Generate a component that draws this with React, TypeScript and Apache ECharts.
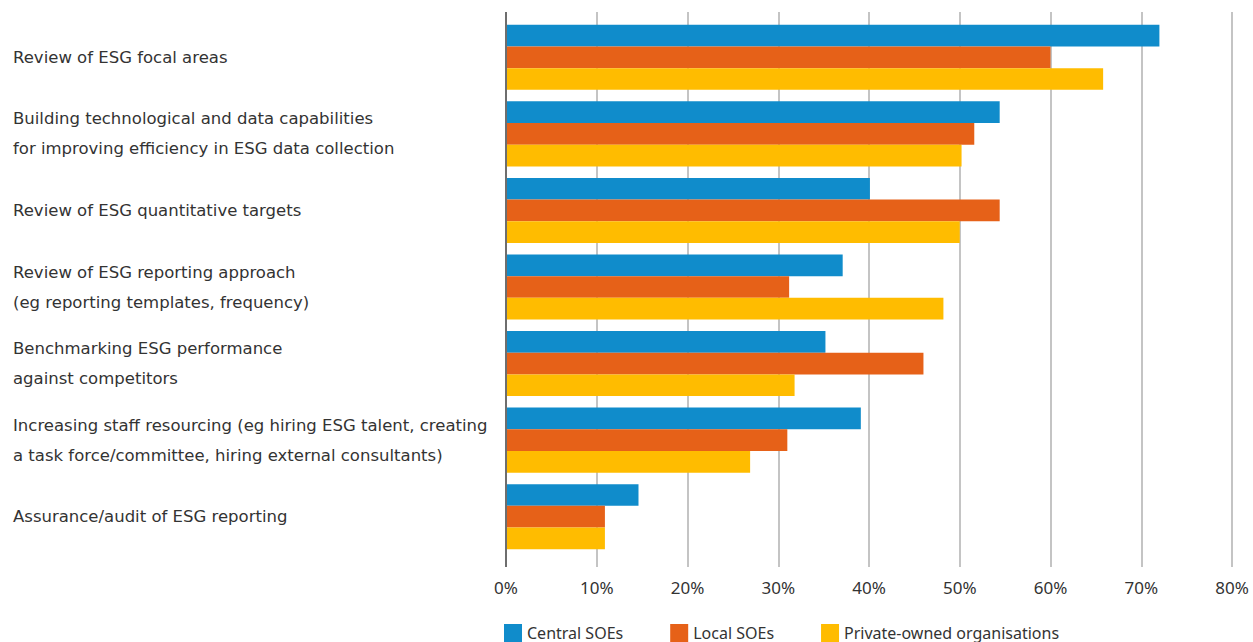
import React, { useEffect, useRef } from "react";
import * as echarts from "echarts";

const categories = [
  "Review of ESG focal areas",
  "Building technological and data capabilities\nfor improving efficiency in ESG data collection",
  "Review of ESG quantitative targets",
  "Review of ESG reporting approach\n(eg reporting templates, frequency)",
  "Benchmarking ESG performance\nagainst competitors",
  "Increasing staff resourcing (eg hiring ESG talent, creating\na task force/committee, hiring external consultants)",
  "Assurance/audit of ESG reporting",
];
const seriesNames = ["Central SOEs", "Local SOEs", "Private-owned organisations"];
const centralSOEs = [72, 54.4, 40.1, 37.1, 35.2, 39.1, 14.6];
const localSOEs = [60, 51.6, 54.4, 31.2, 46, 31, 10.9];
const privateOwned = [65.8, 50.2, 50, 48.2, 31.8, 26.9, 10.9];
const xTicks = [0, 10, 20, 30, 40, 50, 60, 70, 80];
const colors = ["#108ccb", "#e66118", "#ffbc00"];

const FONT = "'Noto Sans', 'Open Sans', sans-serif";
const CAT_FONT = "'DejaVu Sans', 'Noto Sans', sans-serif";

export default function App() {
  const ref = useRef<HTMLDivElement>(null);
  useEffect(() => {
    const chart = echarts.init(ref.current!, null, { renderer: "svg" });
    const values = [centralSOEs, localSOEs, privateOwned];
    chart.setOption({
      animation: false,
      textStyle: { fontFamily: FONT },
      color: colors,
      legend: {
        left: 504,
        top: 624,
        padding: 0,
        itemWidth: 18,
        itemHeight: 18,
        itemGap: 47,
        icon: "rect",
        textStyle: { fontSize: 16, color: "#333", fontFamily: FONT },
        data: seriesNames,
      },
      grid: { left: 506, right: 21, top: 19, bottom: 87 },
      xAxis: [
        {
          type: "value",
          min: xTicks[0],
          max: xTicks[xTicks.length - 1],
          interval: 10,
          position: "bottom",
          axisLine: { show: false },
          axisTick: { show: true, length: 12, lineStyle: { color: "#c4c4c4", width: 2 } },
          splitLine: { show: true, lineStyle: { color: "#c4c4c4", width: 2 } },
          axisLabel: {
            formatter: (v: number) => v + "%",
            fontSize: 17,
            color: "#333",
            margin: 24,
            fontFamily: FONT,
          },
        },
        {
          type: "value",
          min: xTicks[0],
          max: xTicks[xTicks.length - 1],
          interval: 10,
          position: "top",
          axisLine: { show: false },
          axisTick: { show: true, length: 7, lineStyle: { color: "#c4c4c4", width: 2 } },
          splitLine: { show: false },
          axisLabel: { show: false },
        },
      ],
      yAxis: {
        type: "category",
        inverse: true,
        data: categories,
        axisLine: { show: false },
        axisTick: { show: false },
        axisLabel: {
          align: "left",
          margin: 493,
          fontSize: 16.5,
          lineHeight: 30,
          color: "#333",
          fontFamily: CAT_FONT,
        },
      },
      graphic: [
        {
          type: "line",
          shape: { x1: 506, y1: 12, x2: 506, y2: 567 },
          style: { stroke: "#6e6e6e", lineWidth: 2 },
          z: 100,
        },
      ],
      series: seriesNames.map((name, i) => ({
        name,
        type: "bar",
        xAxisIndex: 0,
        data: values[i],
        barGap: "0%",
        barCategoryGap: "15%",
        itemStyle: { color: colors[i] },
      })),
    });
    return () => chart.dispose();
  }, []);
  return (
    <div
      ref={ref}
      style={{ position: "fixed", left: 0, top: 0, width: 1253, height: 642, background: "#fff" }}
    />
  );
}
